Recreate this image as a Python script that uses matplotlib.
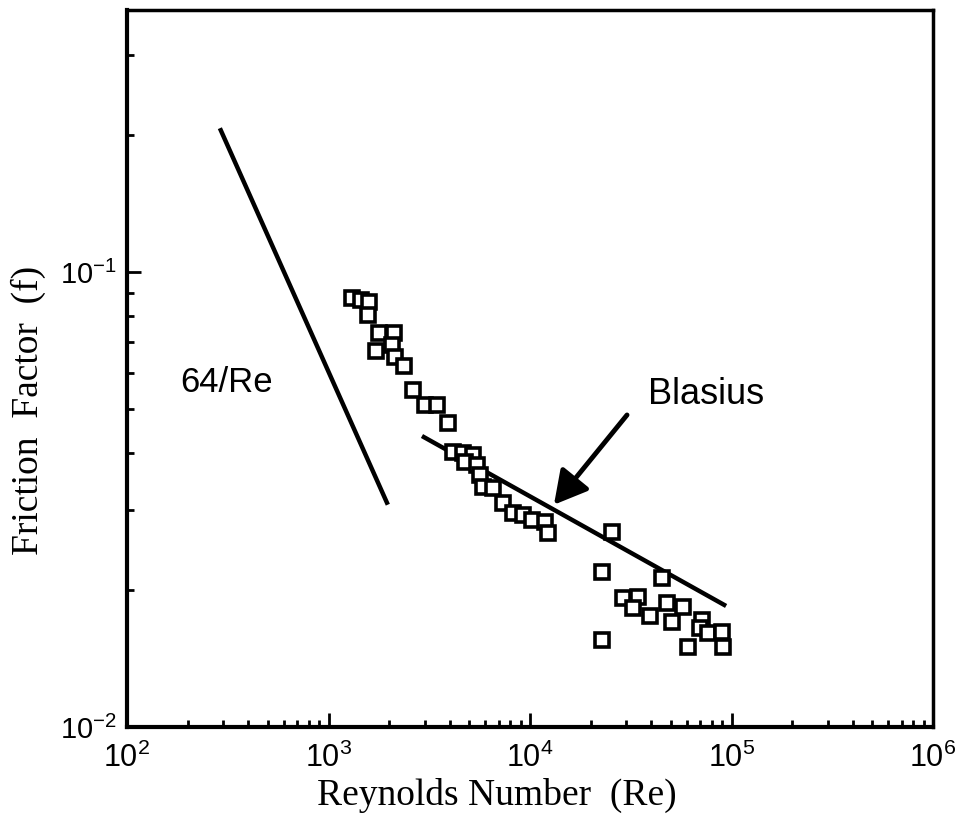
import matplotlib
matplotlib.use("Agg")
import math
import matplotlib.pyplot as plt
from matplotlib.ticker import LogLocator, FixedLocator, FuncFormatter, NullFormatter
from matplotlib.patches import FancyArrowPatch

# ---- data ----
re_data = [1310, 1450, 1590, 1570, 1780, 2110, 2070, 1720, 2140, 2370,
           2630, 3010, 3460, 3920, 4150, 4650, 5210, 4760, 5460, 5650,
           5850, 6550, 7350, 8230, 9230, 10200, 11900, 12300, 25500, 22800,
           45200, 28900, 34400, 32400, 39400, 47900, 57500, 50700, 71400, 69800,
           76400, 89700, 90700, 60800, 22800]
f_data = [0.0877, 0.0868, 0.0859, 0.0804, 0.0734, 0.0734, 0.0691, 0.0671, 0.0651, 0.0622,
          0.0551, 0.0510, 0.0510, 0.0466, 0.0402, 0.0400, 0.0396, 0.0382, 0.0377, 0.0358,
          0.0337, 0.0335, 0.0311, 0.0295, 0.0292, 0.0285, 0.0282, 0.0267, 0.0268, 0.0219,
          0.0213, 0.0192, 0.0193, 0.0183, 0.0175, 0.0187, 0.0184, 0.0170, 0.0172, 0.0165,
          0.0161, 0.0162, 0.0150, 0.0150, 0.0155]

laminar_re = [289, 1970]
laminar_f = [0.207, 0.0308]
blasius_re = [2910, 94000]
blasius_f = [0.0436, 0.01845]

x_major = [1e2, 1e3, 1e4, 1e5, 1e6]
y_major = [1e-2, 1e-1]

xlabel = "Reynolds Number  (Re)"
ylabel = "Friction  Factor  (f)"
label_laminar = "64/Re"
label_blasius = "Blasius"
arrow_tip = (13150, 0.0308)
arrow_tail = (30300, 0.0485)
laminar_text_pos = (183, 0.0573)
blasius_text_pos = (38500, 0.0537)

plt.rcParams['mathtext.fontset'] = 'custom'
plt.rcParams['mathtext.rm'] = 'Liberation Sans'

fig = plt.figure(figsize=(9.65, 8.25), dpi=100)
ax = fig.add_axes([127/965, (825-727)/825, (933-127)/965, (727-10)/825])

ax.set_xscale('log')
ax.set_yscale('log')
ax.set_xlim(1e2, 1e6)
ax.set_ylim(1e-2, 0.3765)

ax.plot(laminar_re, laminar_f, color='black', lw=3.2, solid_capstyle='butt', zorder=2)
ax.plot(blasius_re, blasius_f, color='black', lw=3.2, solid_capstyle='butt', zorder=2)
ax.plot(re_data, f_data, linestyle='none', marker='s', ms=9.5, mew=2.6,
        mfc='white', mec='black', zorder=3)

# arrow
arr = FancyArrowPatch(arrow_tail, arrow_tip,
                      arrowstyle='-|>,head_length=1.0,head_width=0.55',
                      mutation_scale=20, lw=3.5, color='black', zorder=4,
                      shrinkA=0, shrinkB=0)
ax.add_patch(arr)

ax.text(*laminar_text_pos, label_laminar, fontsize=25, family='Liberation Sans',
        ha='left', va='center')
ax.text(*blasius_text_pos, label_blasius, fontsize=26, family='Liberation Sans',
        ha='left', va='center')

# ticks
def fmt(v, pos):
    e = int(round(math.log10(v)))
    return r'$\mathregular{10^{%d}}$' % e

ax.xaxis.set_major_locator(FixedLocator(x_major))
ax.yaxis.set_major_locator(FixedLocator(y_major))
ax.xaxis.set_major_formatter(FuncFormatter(fmt))
ax.yaxis.set_major_formatter(FuncFormatter(fmt))
ax.xaxis.set_minor_locator(LogLocator(base=10, subs=range(2, 10)))
ax.yaxis.set_minor_locator(LogLocator(base=10, subs=range(2, 10)))
ax.xaxis.set_minor_formatter(NullFormatter())
ax.yaxis.set_minor_formatter(NullFormatter())

ax.tick_params(which='both', direction='in', top=False, right=False, color='black')
ax.tick_params(which='major', length=10, width=2)
ax.tick_params(which='minor', length=5, width=2)
ax.tick_params(axis='x', which='major', pad=11, labelsize=22, labelfontfamily='Liberation Sans')
ax.tick_params(axis='y', which='major', pad=7, labelsize=21, labelfontfamily='Liberation Sans')

for s in ['left', 'bottom']:
    ax.spines[s].set_linewidth(3)
for s in ['top', 'right']:
    ax.spines[s].set_linewidth(2.5)

ax.set_xlabel(xlabel, fontsize=27, family='Liberation Serif')
ax.set_ylabel(ylabel, fontsize=27, family='Liberation Serif')
ax.xaxis.set_label_coords((497-127)/806, -(778-727)/717)
ax.yaxis.set_label_coords((46-127)/806, (727-410)/717)

fig.savefig('out.png', dpi=100, facecolor='white')
